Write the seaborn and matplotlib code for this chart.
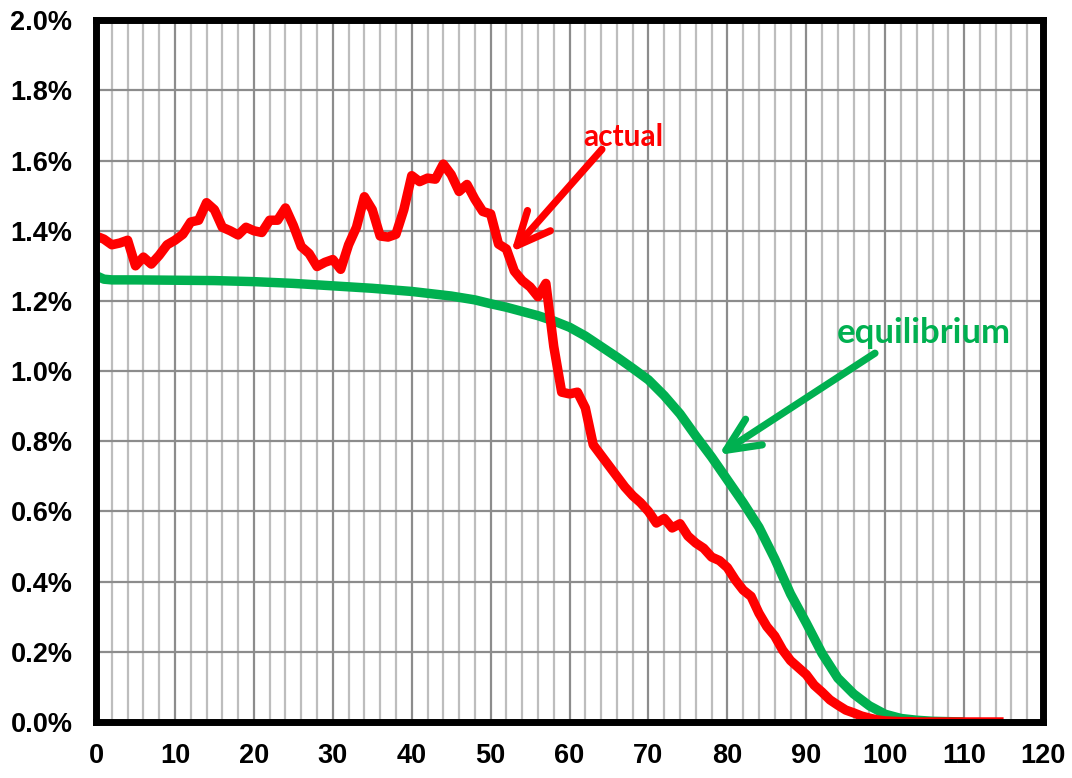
import matplotlib
matplotlib.use("Agg")
import matplotlib.pyplot as plt
import pandas as pd
import seaborn as sns
from matplotlib.ticker import MultipleLocator, FuncFormatter

# Observed share of population by single year of age (percent)
actual_age = list(range(0, 116))
actual_pct = [
    1.385, 1.376, 1.360, 1.365, 1.373, 1.300, 1.325, 1.305, 1.330, 1.360,
    1.373, 1.390, 1.425, 1.430, 1.480, 1.460, 1.410, 1.400, 1.388, 1.410,
    1.400, 1.395, 1.430, 1.430, 1.465, 1.415, 1.355, 1.335, 1.298, 1.310,
    1.318, 1.290, 1.360, 1.410, 1.497, 1.460, 1.385, 1.382, 1.390, 1.460,
    1.557, 1.540, 1.550, 1.547, 1.590, 1.560, 1.512, 1.532, 1.490, 1.455,
    1.448, 1.362, 1.348, 1.285, 1.258, 1.240, 1.212, 1.250, 1.070, 0.940,
    0.935, 0.940, 0.895, 0.790, 0.760, 0.730, 0.700, 0.670, 0.645, 0.625,
    0.600, 0.567, 0.580, 0.553, 0.565, 0.530, 0.510, 0.495, 0.470, 0.460,
    0.440, 0.405, 0.376, 0.358, 0.310, 0.272, 0.245, 0.205, 0.175, 0.155,
    0.135, 0.105, 0.085, 0.063, 0.048, 0.034, 0.026, 0.017, 0.011, 0.006,
    0.003, 0.002, 0.001, 0.001, 0.000, 0.000, 0.000, 0.000, 0.000, 0.000,
    0.000, 0.000, 0.000, 0.000, 0.000, 0.000,
]

# Equilibrium (stationary) age distribution (percent)
equil_age = [0, 1, 2, 5, 10, 15, 20, 25, 30, 35, 40, 45, 48, 50, 52, 54, 56,
             58, 60, 62, 64, 66, 68, 70, 72, 74, 76, 78, 80, 82, 84, 86, 88,
             90, 92, 94, 96, 98, 100, 102, 104, 106, 108, 110]
equil_pct = [1.272, 1.262, 1.260, 1.260, 1.259, 1.258, 1.255, 1.250, 1.243,
             1.236, 1.227, 1.214, 1.203, 1.192, 1.182, 1.170, 1.158, 1.143,
             1.125, 1.100, 1.070, 1.040, 1.008, 0.975, 0.930, 0.878, 0.815,
             0.755, 0.690, 0.625, 0.555, 0.465, 0.365, 0.282, 0.195, 0.125,
             0.080, 0.046, 0.022, 0.010, 0.005, 0.002, 0.001, 0.000]

RED = "#ff0000"
GREEN = "#00b050"

sns.set_theme(style="white")
plt.rcParams["font.family"] = ["Liberation Sans", "DejaVu Sans"]

fig = plt.figure(figsize=(10.72, 7.78), dpi=100)
ax = fig.add_axes([0.0896, 0.072, 0.8834, 0.902])

df_actual = pd.DataFrame({"age": actual_age, "pct": actual_pct})
df_equil = pd.DataFrame({"age": equil_age, "pct": equil_pct})

sns.lineplot(data=df_equil, x="age", y="pct", ax=ax, color=GREEN, lw=6.8,
             solid_capstyle="butt", solid_joinstyle="round", zorder=3)
sns.lineplot(data=df_actual, x="age", y="pct", ax=ax, color=RED, lw=6.8,
             solid_capstyle="butt", solid_joinstyle="round", zorder=4)

ax.set_xlim(0, 120)
ax.set_ylim(0, 2.0)
ax.xaxis.set_major_locator(MultipleLocator(10))
ax.xaxis.set_minor_locator(MultipleLocator(2))
ax.yaxis.set_major_locator(MultipleLocator(0.2))
ax.yaxis.set_major_formatter(FuncFormatter(lambda v, _: f"{v:.1f}%"))

ax.grid(which="minor", axis="x", color="#bdbdbd", lw=1.6, zorder=0)
ax.grid(which="major", axis="x", color="#8c8c8c", lw=1.6, zorder=0)
ax.grid(which="major", axis="y", color="#8c8c8c", lw=1.6, zorder=0)
ax.set_axisbelow(True)

ax.tick_params(axis="both", which="major", direction="out", length=5,
               width=1.5, color="#8c8c8c", labelsize=19.5, labelcolor="black")
ax.tick_params(axis="x", pad=10)
ax.tick_params(axis="y", pad=12)
ax.tick_params(which="minor", length=0)
for lbl in ax.get_xticklabels() + ax.get_yticklabels():
    lbl.set_fontweight("bold")

for side in ["left", "right", "top", "bottom"]:
    ax.spines[side].set_visible(True)
    ax.spines[side].set_color("black")
    ax.spines[side].set_linewidth(5)
    ax.spines[side].set_zorder(5)

ax.set_xlabel("")
ax.set_ylabel("")

# Callout arrows and labels
arrow_style = "->, head_length=1.2, head_width=0.55"
ax.annotate("", xy=(52.6, 1.339), xytext=(64.1, 1.632),
            arrowprops=dict(arrowstyle=arrow_style, color=RED, lw=5.2,
                            mutation_scale=20, shrinkA=0, shrinkB=0,
                            capstyle="round", joinstyle="round"),
            zorder=6)
ax.text(66.8, 1.668, "actual", color=RED, fontsize=21.5, fontweight="bold",
        family=["Lato", "DejaVu Sans"], ha="center", va="center", zorder=6)

ax.annotate("", xy=(78.9, 0.761), xytext=(98.7, 1.051),
            arrowprops=dict(arrowstyle=arrow_style, color=GREEN, lw=5.2,
                            mutation_scale=20, shrinkA=0, shrinkB=0,
                            capstyle="round", joinstyle="round"),
            zorder=6)
ax.text(104.9, 1.110, "equilibrium", color=GREEN, fontsize=25,
        fontweight="bold", family=["Lato", "DejaVu Sans"],
        ha="center", va="center", zorder=6)

fig.savefig("out.png", dpi=100)
